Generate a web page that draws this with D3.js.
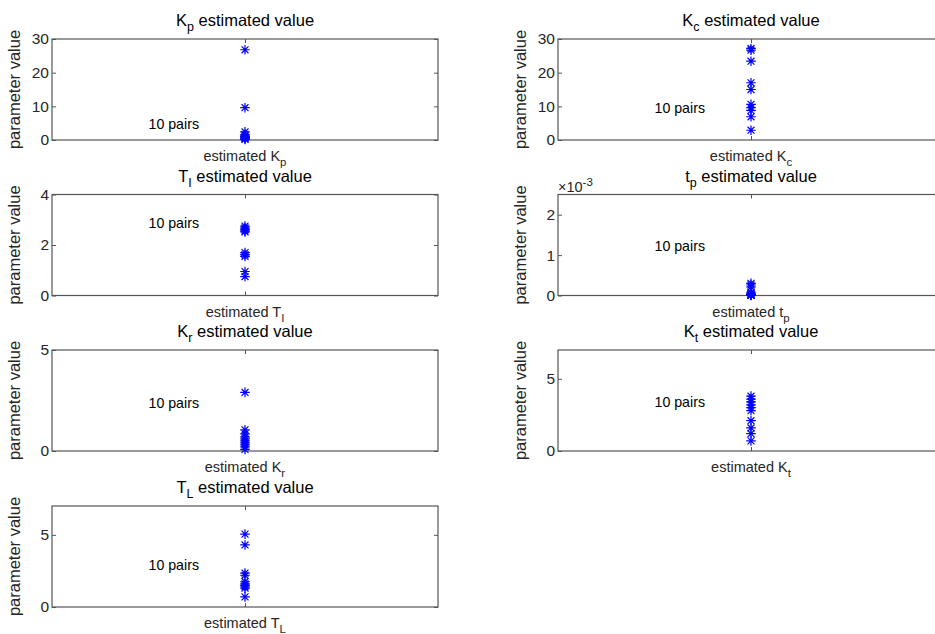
<!DOCTYPE html>
<html>
<head>
<meta charset="utf-8">
<script src="https://cdn.jsdelivr.net/npm/d3@7"></script>
<style>
  html, body { margin: 0; padding: 0; background: #fff; }
  svg { display: block; font-family: "Liberation Sans", Arial, Helvetica, sans-serif; }
</style>
</head>
<body>
<svg id="chart" width="935" height="634"></svg>
<script>
// Parameter symbols (base letter + subscript), one entry per subplot
const symbols    = ["K", "K", "T", "t", "K", "K", "T"];
const subscripts = ["p", "c", "I", "p", "r", "t", "L"];

// Estimated values from the 10 identification pairs
const kpValues = [26.8, 9.6, 2.4, 1.6, 1.2, 1.0, 0.8, 0.6, 0.4, 0.2];
const kcValues = [27.2, 26.7, 23.4, 17.0, 15.0, 10.6, 9.6, 8.8, 6.9, 2.9];
const tiValues = [2.75, 2.68, 2.62, 2.56, 2.52, 1.70, 1.62, 1.55, 0.95, 0.75];
const tpValues = [0.00030, 0.00026, 0.00021, 0.00008, 0.00005, 0.00003, 0.00002, 0.00001, 0.000008, 0.000004];
const krValues = [2.9, 1.05, 0.85, 0.7, 0.6, 0.5, 0.4, 0.3, 0.2, 0.08];
const ktValues = [3.8, 3.6, 3.4, 3.2, 3.0, 2.8, 2.1, 1.6, 1.2, 0.7];
const tlValues = [5.05, 4.3, 2.35, 2.2, 1.75, 1.6, 1.5, 1.4, 1.3, 0.7];

// Y-axis limits and ticks
const yMax   = [30, 30, 4, 0.0025, 5, 7, 7];
const yTicks = [[0, 10, 20, 30], [0, 10, 20, 30], [0, 2, 4], [0, 0.001, 0.002], [0, 5], [0, 5], [0, 5]];
const tickScale = [1, 1, 1, 1e-3, 1, 1, 1];   // exponent factor shown above the axis

// "10 pairs" annotation anchor (data coordinates)
const noteText = "10 pairs";
const noteX = 0.5;
const noteY = [4.8, 9.5, 2.88, 0.00122, 2.38, 3.37, 2.88];

const allValues = [kpValues, kcValues, tiValues, tpValues, krValues, ktValues, tlValues];

const svg = d3.select("#chart");
svg.append("rect").attr("width", 935).attr("height", 634).attr("fill", "#fff");

const colLeft = [52, 558];
const axW = 386;
const rowTop = [39, 194.5, 350, 506];
const axH = 101;
const axisColor = "#555";
const textColor = "#262626";
const tickLen = 4;

allValues.forEach((vals, i) => {
  const col = i % 2, row = Math.floor(i / 2);
  const x0 = colLeft[col], y0 = rowTop[row];
  const g = svg.append("g").attr("transform", `translate(${x0},${y0})`);

  const x = d3.scaleLinear().domain([0, 2]).range([0, axW]);
  const y = d3.scaleLinear().domain([0, yMax[i]]).range([axH, 0]);

  // left axis with inward ticks
  const fmt = v => d3.format("~g")(+(v / tickScale[i]).toFixed(6));
  const left = d3.axisLeft(y).tickValues(yTicks[i]).tickSize(-tickLen).tickPadding(3).tickFormat(fmt);
  const la = g.append("g").call(left);
  la.select(".domain").remove();
  la.selectAll(".tick line").attr("stroke", axisColor);
  la.selectAll(".tick text").attr("fill", textColor).attr("font-size", 15.5)
    .attr("font-family", "Liberation Sans, Arial, sans-serif");

  // right axis ticks (inward)
  const right = d3.axisRight(y).tickValues(yTicks[i]).tickSize(-tickLen).tickFormat("");
  const ra = g.append("g").attr("transform", `translate(${axW},0)`).call(right);
  ra.select(".domain").remove();
  ra.selectAll(".tick line").attr("stroke", axisColor);

  // x ticks at the single category, top and bottom
  const bottom = d3.axisBottom(x).tickValues([1]).tickSize(-tickLen).tickFormat("");
  const ba = g.append("g").attr("transform", `translate(0,${axH})`).call(bottom);
  ba.select(".domain").remove();
  ba.selectAll(".tick line").attr("stroke", axisColor);
  const top = d3.axisTop(x).tickValues([1]).tickSize(-tickLen).tickFormat("");
  const ta = g.append("g").call(top);
  ta.select(".domain").remove();
  ta.selectAll(".tick line").attr("stroke", axisColor);

  // box
  g.append("rect").attr("x", 0).attr("y", 0).attr("width", axW).attr("height", axH)
    .attr("fill", "none").attr("stroke", axisColor).attr("stroke-width", 1.2);

  // exponent label
  if (tickScale[i] !== 1) {
    const ex = g.append("text").attr("x", 0).attr("y", -3).attr("fill", textColor).attr("font-size", 14.5);
    ex.append("tspan").text("\u00d710");
    ex.append("tspan").attr("dy", -6).attr("font-size", 11.5).text(String(Math.round(Math.log10(tickScale[i]))));
  }

  // asterisk markers
  const r = 4.8;
  const d = r * 0.72;
  const star = `M${-r},0L${r},0M0,${-r}L0,${r}M${-d},${-d}L${d},${d}M${-d},${d}L${d},${-d}`;
  g.append("g").selectAll("path").data(vals).join("path")
    .attr("transform", v => `translate(${x(1)},${y(v)})`)
    .attr("d", star)
    .attr("fill", "none").attr("stroke", "#0000ff").attr("stroke-width", 1.2);

  // annotation
  g.append("text").attr("x", x(noteX)).attr("y", y(noteY[i])).attr("dy", "0.35em")
    .attr("font-size", 14.2).attr("fill", "#000").text(noteText);

  // title with subscript
  const t = g.append("text").attr("x", axW / 2).attr("y", -13).attr("text-anchor", "middle")
    .attr("font-size", 16.5).attr("fill", "#000");
  t.append("tspan").text(symbols[i]);
  t.append("tspan").attr("dy", 5).attr("font-size", 12.5).text(subscripts[i]);
  t.append("tspan").attr("dy", -5).text(" estimated value");

  // x label
  const xl = g.append("text").attr("x", axW / 2).attr("y", axH + 21).attr("text-anchor", "middle")
    .attr("font-size", 14.5).attr("fill", textColor);
  xl.append("tspan").text("estimated " + symbols[i]);
  xl.append("tspan").attr("dy", 5).attr("font-size", 11.5).text(subscripts[i]);

  // y label
  g.append("text").attr("transform", `translate(-32,${axH / 2}) rotate(-90)`)
    .attr("text-anchor", "middle").attr("font-size", 16.5).attr("fill", textColor)
    .text("parameter value");
});
</script>
</body>
</html>
